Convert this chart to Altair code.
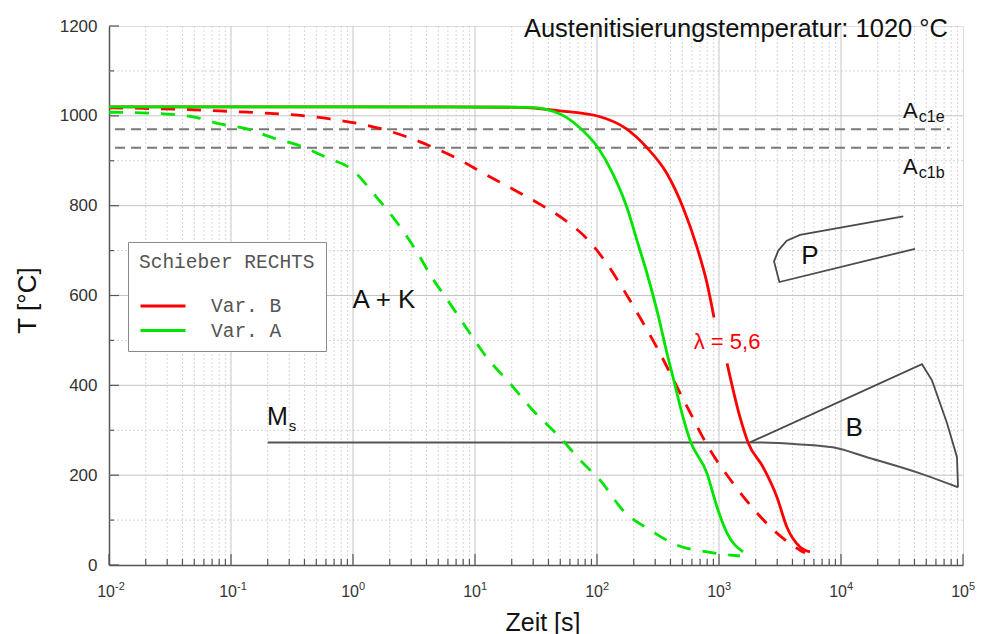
import altair as alt
import pandas as pd

# ---------------- data ----------------
# Var. B (red), solid curve, split around the lambda label
b_solid_t1 = [0.01, 1, 6.24, 23.4, 49.8, 106, 172, 257, 375, 507, 661, 798, 910]
b_solid_T1 = [1020, 1020, 1020, 1019, 1011, 998, 972, 929, 871, 796, 707, 627, 551]
b_solid_t2 = [1164, 1486, 1729, 2296, 2987, 3606, 4613, 5570]
b_solid_T2 = [449, 329, 273, 218, 151, 84, 40, 29]

# Var. A (green), solid curve
a_solid_t = [0.01, 1, 28.3, 49.8, 72.6, 102, 135, 176, 213, 257, 310, 382, 420, 507, 578, 797, 963, 1164, 1573]
a_solid_T = [1020, 1020, 1019, 1004, 973, 929, 871, 796, 722, 649, 567, 462, 418, 329, 278, 204, 129, 71, 29]

# Var. B (red), dashed curve
b_dash_t = [0.01, 0.081, 0.647, 1.66, 4.27, 7.26, 11.6, 19.4, 32.2, 52.6, 84.3, 121, 170, 225, 310, 530, 844, 1303, 2049, 2985, 4611, 5070]
b_dash_T = [1018, 1011, 993, 972, 933, 904, 873, 840, 807, 771, 724, 670, 607, 551, 484, 360, 256, 182, 116, 71, 33, 27]

# Var. A (green), dashed curve
a_dash_t = [0.01, 0.0299, 0.0526, 0.081, 0.135, 0.221, 0.368, 0.647, 0.944, 1.57, 2.30, 3.22, 4.44, 6.24, 8.77,
            12.5, 19.4, 29.9, 49.8, 75.4, 106, 163, 272, 453, 798, 1486]
a_dash_T = [1008, 1004, 996, 982, 971, 951, 933, 904, 884, 818, 762, 704, 640, 582, 522,
            462, 404, 344, 284, 229, 189, 122, 78, 44, 29, 20]

# Ms line continuing into the lower boundary of the bainite field
ms_t = [0.2, 1795, 4355, 8590, 16300, 44500, 91000]
ms_T = [273, 273, 269, 262, 240, 204, 173]
# upper / right boundary of the bainite field
b_field_t = [1795, 46100, 55700, 73900, 89300, 91000]
b_field_T = [273, 447, 411, 316, 240, 173]
# pearlite field (one open path)
p_field_t = [32400, 4613, 3589, 3062, 2825, 3126, 40450]
p_field_T = [776, 735, 722, 700, 676, 630, 704]

# Ac1e / Ac1b dashed reference temperatures
ac_T = [970, 929]
ac_t_start = [0.0112, 0.0112]
ac_t_end = [78000, 78000]

# axis ticks and labels
x_major = [0.01, 0.1, 1, 10, 100, 1000, 10000, 100000]
x_minor = [k * 10.0 ** d for d in range(-2, 5) for k in range(2, 10)]
x_grid_major = [0.1, 1, 10, 100, 1000, 10000]
x_label_base = ["10"] * 8
x_label_exp = ["-2", "-1", "0", "1", "2", "3", "4", "5"]
y_major = [0, 200, 400, 600, 800, 1000, 1200]
y_minor = [100, 300, 500, 700, 900, 1100]
y_grid_major = [200, 400, 600, 800, 1000]

W, H = 854, 539
FONT = "Liberation Sans"

xs = alt.Scale(type="log", domain=[0.01, 100000], nice=False)
ys = alt.Scale(domain=[0, 1200], nice=False)

x_axis = alt.Axis(values=x_major, labels=False, grid=False, ticks=False, tickSize=0,
                  domainColor="#555555", domainWidth=1.5,
                  title="Zeit [s]", titleFont=FONT, titleFontSize=25, titleFontWeight="normal",
                  titleColor="#111111", titleX=433.5, titleY=65, titleAlign="center",
                  titleBaseline="alphabetic")
y_axis = alt.Axis(values=y_major, format="d", grid=False, ticks=False, tickSize=0,
                  labelFont=FONT, labelFontSize=17, labelColor="#333333", labelPadding=12,
                  domainColor="#555555", domainWidth=1.5,
                  title="T [°C]", titleFont=FONT, titleFontSize=26, titleFontWeight="normal",
                  titleColor="#111111", titleX=-74, titleY=274, titleAlign="center",
                  titleBaseline="alphabetic", titleAngle=270)


def X(field="t:Q"):
    return alt.X(field, scale=xs, axis=x_axis)


def Y(field="T:Q"):
    return alt.Y(field, scale=ys, axis=y_axis)


# ---------------- grid ----------------
gx_minor = alt.Chart(pd.DataFrame({"t": x_minor})).mark_rule(
    color="#d6d6d6", strokeWidth=1, strokeDash=[2, 2]).encode(
    x=X(), y=alt.value(0), y2=alt.value(H))
gy_minor = alt.Chart(pd.DataFrame({"T": y_minor})).mark_rule(
    color="#d6d6d6", strokeWidth=1, strokeDash=[2, 2]).encode(
    y=Y(), x=alt.value(0), x2=alt.value(W))
gx_major = alt.Chart(pd.DataFrame({"t": x_grid_major})).mark_rule(
    color="#c4c4c4", strokeWidth=1).encode(
    x=X(), y=alt.value(0), y2=alt.value(H))
gy_major = alt.Chart(pd.DataFrame({"T": y_grid_major})).mark_rule(
    color="#c4c4c4", strokeWidth=1).encode(
    y=Y(), x=alt.value(0), x2=alt.value(W))

# inward ticks
tx_major = alt.Chart(pd.DataFrame({"t": x_major})).mark_rule(color="#555555", strokeWidth=1.2).encode(
    x=X(), y=alt.value(H), y2=alt.value(H - 11))
tx_minor = alt.Chart(pd.DataFrame({"t": x_minor})).mark_rule(color="#555555", strokeWidth=1.2).encode(
    x=X(), y=alt.value(H), y2=alt.value(H - 6))
ty_major = alt.Chart(pd.DataFrame({"T": y_major})).mark_rule(color="#555555", strokeWidth=1.2).encode(
    y=Y(), x=alt.value(0), x2=alt.value(10))
ty_minor = alt.Chart(pd.DataFrame({"T": y_minor})).mark_rule(color="#555555", strokeWidth=1.2).encode(
    y=Y(), x=alt.value(0), x2=alt.value(5))

# x tick labels as base 10 with superscript exponent
xl_df = pd.DataFrame({"t": x_major, "base": x_label_base, "exp": x_label_exp})
xl_base = alt.Chart(xl_df).mark_text(font=FONT, fontSize=16, color="#333333", align="right",
                                     baseline="alphabetic", dx=6).encode(
    x=X(), y=alt.value(H + 31.5), text="base:N")
xl_exp = alt.Chart(xl_df).mark_text(font=FONT, fontSize=11, color="#333333", align="left",
                                    baseline="alphabetic", dx=6).encode(
    x=X(), y=alt.value(H + 25), text="exp:N")

# Ac1 dashed lines
ac_df = pd.DataFrame({"t0": ac_t_start, "t1": ac_t_end, "T": ac_T})
ac_lines = alt.Chart(ac_df).mark_rule(color="#7a7a7a", strokeWidth=2, strokeDash=[10, 6]).encode(
    x=X("t0:Q"), x2="t1:Q", y=Y())


# Ms / B / P lines
def path_layer(t, T, width=1.8, color="#4a4a4a", interp="linear"):
    df = pd.DataFrame({"t": t, "T": T, "o": list(range(len(t)))})
    return alt.Chart(df).mark_line(color=color, strokeWidth=width, interpolate=interp).encode(
        x=X(), y=Y(), order="o:Q")


ms_line = path_layer(ms_t, ms_T, 2.0, "#555555", "monotone")
b_line = path_layer(b_field_t, b_field_T, 1.8)
p_line = path_layer(p_field_t, p_field_T, 1.8)

# solid curves (with legend)
solid_df = pd.concat([
    pd.DataFrame({"t": b_solid_t1, "T": b_solid_T1, "var": "Var. B", "seg": "b1"}),
    pd.DataFrame({"t": b_solid_t2, "T": b_solid_T2, "var": "Var. B", "seg": "b2"}),
    pd.DataFrame({"t": a_solid_t, "T": a_solid_T, "var": "Var. A", "seg": "a"}),
])
legend = alt.Legend(orient="none", legendX=19, legendY=216, title="Schieber RECHTS",
                    titleFont="Liberation Mono", titleFontSize=19.5, titleFontWeight="normal",
                    titleColor="#555555", titlePadding=23, titleAnchor="start",
                    labelFont="Liberation Mono", labelFontSize=19.5, labelColor="#555555",
                    labelOffset=51, symbolType="M-1,0H4", symbolSize=324, symbolStrokeWidth=3,
                    padding=11, strokeColor="#8a8a8a", fillColor="white", rowPadding=4.5,
                    cornerRadius=0)
solid = alt.Chart(solid_df).mark_line(strokeWidth=2.8, interpolate="monotone").encode(
    x=X(), y=Y(),
    color=alt.Color("var:N", scale=alt.Scale(domain=["Var. B", "Var. A"], range=["#ff0000", "#00e400"]),
                    legend=legend),
    detail="seg:N")


def dash_layer(t, T, color):
    df = pd.DataFrame({"t": t, "T": T})
    return alt.Chart(df).mark_line(color=color, strokeWidth=2.8, strokeDash=[14, 12],
                                   interpolate="monotone").encode(x=X(), y=Y())


b_dash = dash_layer(b_dash_t, b_dash_T, "#ff0000")
a_dash = dash_layer(a_dash_t, a_dash_T, "#00e400")


# annotations
def text_layer(t, T, text, size, color="#111111", align="left", baseline="alphabetic"):
    df = pd.DataFrame({"t": [t], "T": [T], "s": [text]})
    return alt.Chart(df).mark_text(font=FONT, fontSize=size, color=color, align=align,
                                   baseline=baseline).encode(x=X(), y=Y(), text="s:N")


texts = [
    text_layer(75300, 1175.6, "Austenitisierungstemperatur: 1020 °C", 25.5, align="right"),
    text_layer(1.795, 573, "A + K", 26, align="center"),
    text_layer(5570, 671, "P", 26, align="center"),
    text_layer(12800, 287, "B", 26, align="center"),
    text_layer(1164, 482, "λ = 5,6", 22, color="#ff0000", align="center"),
    text_layer(0.197, 311, "M", 25),
    text_layer(0.298, 298, "s", 15),
    text_layer(32200, 995.6, "A", 22),
    text_layer(43400, 986.7, "c1e", 16),
    text_layer(32200, 871, "A", 22),
    text_layer(43400, 862, "c1b", 16),
]

chart = alt.layer(
    gx_minor, gy_minor, gx_major, gy_major, ac_lines,
    ms_line, b_line, p_line, b_dash, a_dash, solid,
    *texts, tx_major, tx_minor, ty_major, ty_minor, xl_base, xl_exp,
).properties(
    width=W, height=H,
    autosize=alt.AutoSizeParams(type="none"),
    padding={"left": 109, "top": 26, "right": 18, "bottom": 69},
).configure_view(stroke=None).configure(background="white")

chart.save("out.html", embed_options={"renderer": "svg", "actions": False})
